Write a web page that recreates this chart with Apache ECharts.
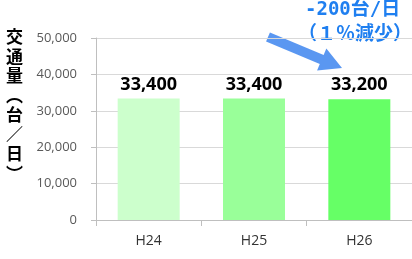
<!DOCTYPE html>
<html>
<head>
<meta charset="utf-8">
<script src="https://cdn.jsdelivr.net/npm/echarts@6/dist/echarts.min.js"></script>
<style>
  html, body { margin: 0; padding: 0; background: #fff; }
  #chart { width: 412px; height: 259px; }
</style>
</head>
<body>
<div id="chart"></div>
<script>
// 年度と交通量
const years = ["H24", "H25", "H26"];
const traffic = [33400, 33400, 33200];
const barColors = ["#ccffcc", "#99ff99", "#66ff66"];
const yTicks = { min: 0, max: 50000, interval: 10000 };

const chart = echarts.init(document.getElementById("chart"));

// 矢印（注記）
const T = [268, 37], P = [342, 68];
const dx = P[0] - T[0], dy = P[1] - T[1];
const len = Math.sqrt(dx * dx + dy * dy);
const u = [dx / len, dy / len], n = [-u[1], u[0]];
const B = [P[0] - 22 * u[0], P[1] - 22 * u[1]];
const pt = (o, k) => [o[0] + k * n[0], o[1] + k * n[1]];
const arrow = [pt(T, 5), pt(B, 5), pt(B, 12), P, pt(B, -12), pt(B, -5), pt(T, -5)];

const noteFont = "bold 19px 'DejaVu Sans Mono', 'Noto Sans CJK JP'";

const option = {
  animation: false,
  grid: { left: 96, right: -2, top: 38, bottom: 39 },
  xAxis: {
    type: "category",
    data: years,
    axisLine: { lineStyle: { color: "#bfbfbf" } },
    axisTick: { show: true, length: 6, lineStyle: { color: "#bfbfbf" } },
    axisLabel: { color: "#333", fontSize: 14, margin: 14, fontFamily: "Open Sans" },
  },
  yAxis: {
    type: "value",
    min: yTicks.min,
    max: yTicks.max,
    interval: yTicks.interval,
    axisLine: { show: true, lineStyle: { color: "#bfbfbf" } },
    axisTick: { show: true, length: 5, lineStyle: { color: "#bfbfbf" } },
    splitLine: { lineStyle: { color: "#d9d9d9" } },
    axisLabel: {
      color: "#595959",
      fontSize: 13,
      margin: 19,
      fontFamily: "Open Sans",
      formatter: (v) => v.toLocaleString("en-US"),
    },
  },
  series: [
    {
      type: "bar",
      barWidth: 62,
      data: traffic.map((v, i) => ({ value: v, itemStyle: { color: barColors[i] } })),
      label: {
        show: true,
        position: "top",
        distance: 5,
        color: "#000",
        fontSize: 18,
        fontWeight: "bold",
        fontFamily: "Open Sans",
        formatter: (p) => p.value.toLocaleString("en-US"),
      },
    },
  ],
  graphic: [
    {
      type: "text",
      left: 6,
      top: 27,
      style: {
        text: "交\n通\n量\n︵\n台\n／\n日\n︶",
        fill: "#000",
        font: "bold 17px 'Noto Sans CJK JP'",
        lineHeight: 19.5,
        align: "left",
      },
    },
    {
      type: "polygon",
      shape: { points: arrow },
      style: { fill: "#3d85ee", opacity: 0.85 },
    },
    {
      type: "text",
      left: 305,
      top: 1,
      style: { text: "-200台/日", fill: "#1f7ff0", font: noteFont },
    },
    {
      type: "text",
      left: 298,
      top: 23,
      style: { text: "（１％減少）", fill: "#1f7ff0", font: "bold 19px 'Noto Sans CJK JP'" },
    },
  ],
};

chart.setOption(option);
</script>
</body>
</html>
